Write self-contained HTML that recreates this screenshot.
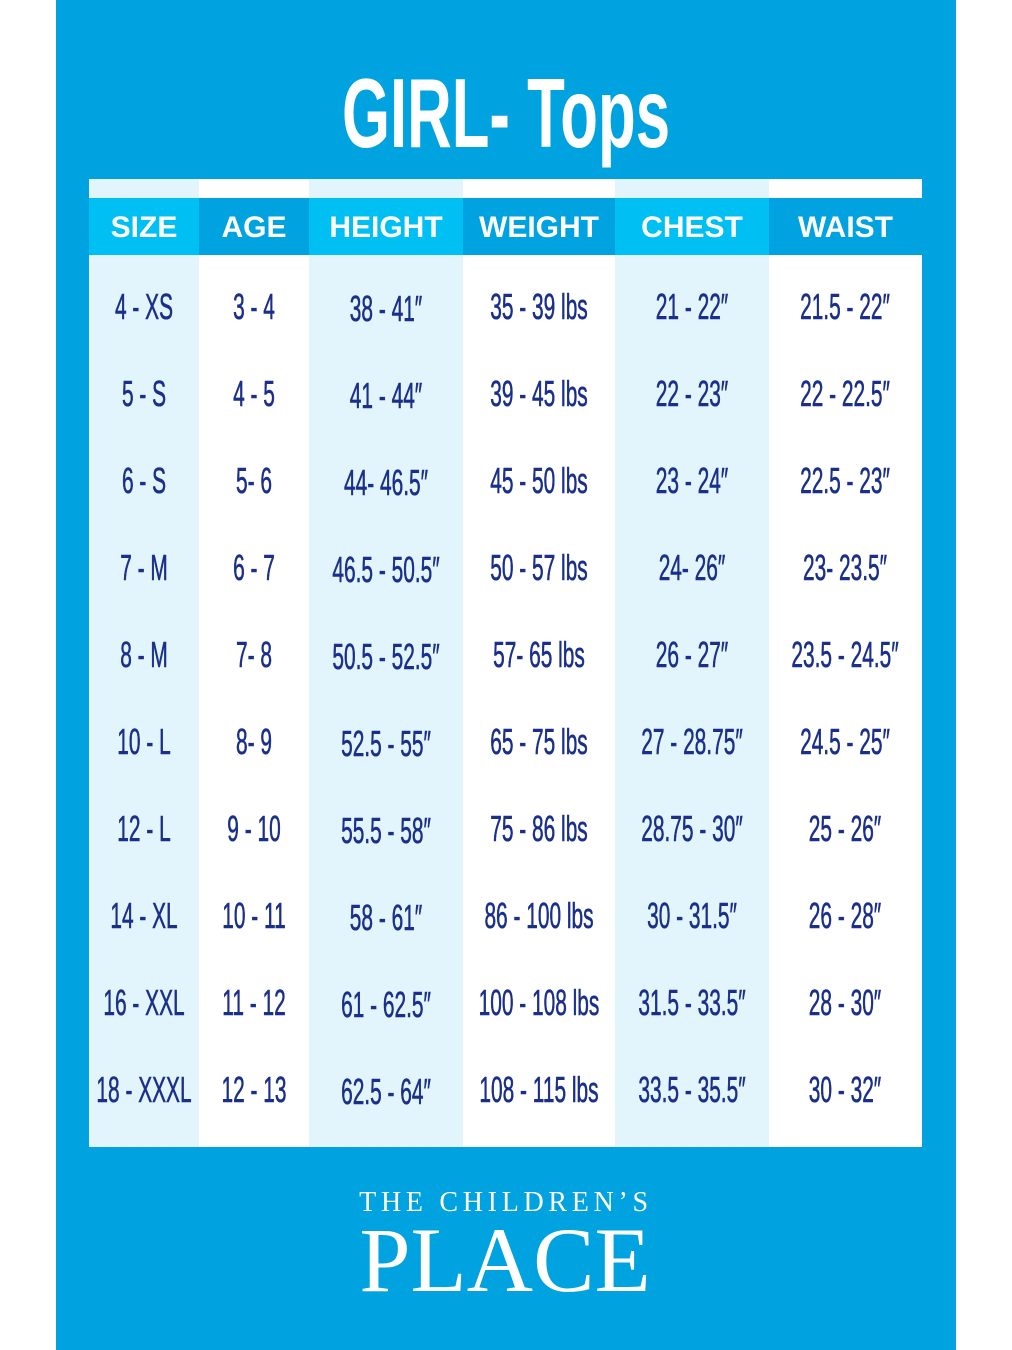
<!DOCTYPE html>
<html><head><meta charset="utf-8"><style>
body{margin:0;width:1012px;height:1350px;background:#fff;position:relative;overflow:hidden;font-family:"Liberation Sans",sans-serif}
.bg{position:absolute;left:56px;top:0;width:900px;height:1350px;background:#00a3e0}
.col{position:absolute;top:179px;height:968px}
.hd{position:absolute;top:198px;height:57px;color:#fff;font-weight:bold;font-size:30px;line-height:60px;text-align:center}
.c{position:absolute;width:300px;white-space:nowrap;text-align:center;font-size:36px;color:#1a2f8a;line-height:40px;transform:scaleX(0.58);transform-origin:center;-webkit-text-stroke:0.6px #1a2f8a}
.title{position:absolute;left:0;width:1012px;top:58px;text-align:center;color:#fff;font-weight:bold;font-size:98px;line-height:110px;transform:scaleX(0.63);transform-origin:center}
.l1{position:absolute;left:300px;width:412px;top:1186px;text-align:center;color:#fff;font-family:"Liberation Serif",serif;font-size:28px;letter-spacing:4.7px;line-height:34px}
.l2{position:absolute;left:340px;width:330px;top:1210px;text-align:center;color:#fff;font-family:"Liberation Serif",serif;font-size:92px;line-height:100px}
</style></head><body>
<div class="bg"></div>
<div class="title">GIRL- Tops</div>
<div class="col" style="left:89px;width:110px;background:#e3f5fc"></div>
<div class="col" style="left:199px;width:110px;background:#fff"></div>
<div class="col" style="left:309px;width:154px;background:#e3f5fc"></div>
<div class="col" style="left:463px;width:152px;background:#fff"></div>
<div class="col" style="left:615px;width:154px;background:#e3f5fc"></div>
<div class="col" style="left:769px;width:153px;background:#fff"></div>
<div class="hd" style="left:89px;width:110px;background:#00c0f3">SIZE</div>
<div class="hd" style="left:199px;width:110px;background:#00a3e0">AGE</div>
<div class="hd" style="left:309px;width:154px;background:#00c0f3">HEIGHT</div>
<div class="hd" style="left:463px;width:152px;background:#00a3e0">WEIGHT</div>
<div class="hd" style="left:615px;width:154px;background:#00c0f3">CHEST</div>
<div class="hd" style="left:769px;width:153px;background:#00a3e0">WAIST</div>
<div id="t"></div>
<script>
var d=[["4 - XS","3 - 4","38 - 41″","35 - 39 lbs","21 - 22″","21.5 - 22″"],
["5 - S","4 - 5","41 - 44″","39 - 45 lbs","22 - 23″","22 - 22.5″"],
["6 - S","5- 6","44- 46.5″","45 - 50 lbs","23 - 24″","22.5 - 23″"],
["7 - M","6 - 7","46.5 - 50.5″","50 - 57 lbs","24- 26″","23- 23.5″"],
["8 - M","7- 8","50.5 - 52.5″","57- 65 lbs","26 - 27″","23.5 - 24.5″"],
["10 - L","8- 9","52.5 - 55″","65 - 75 lbs","27 - 28.75″","24.5 - 25″"],
["12 - L","9 - 10","55.5 - 58″","75 - 86 lbs","28.75 - 30″","25 - 26″"],
["14 - XL","10 - 11","58 - 61″","86 - 100 lbs","30 - 31.5″","26 - 28″"],
["16 - XXL","11 - 12","61 - 62.5″","100 - 108 lbs","31.5 - 33.5″","28 - 30″"],
["18 - XXXL","12 - 13","62.5 - 64″","108 - 115 lbs","33.5 - 35.5″","30 - 32″"]];
var cx=[144,254,386,539,692,845],h="";
for(var i=0;i<10;i++)for(var j=0;j<6;j++){var y=307+87*i-20+(j==2?2:0);
h+='<div class="c" style="left:'+(cx[j]-150)+'px;top:'+y+'px">'+d[i][j]+'</div>';}
document.getElementById("t").innerHTML=h;
</script>
<div class="l1">THE CHILDREN’S</div>
<div class="l2">PLACE</div>
</body></html>
